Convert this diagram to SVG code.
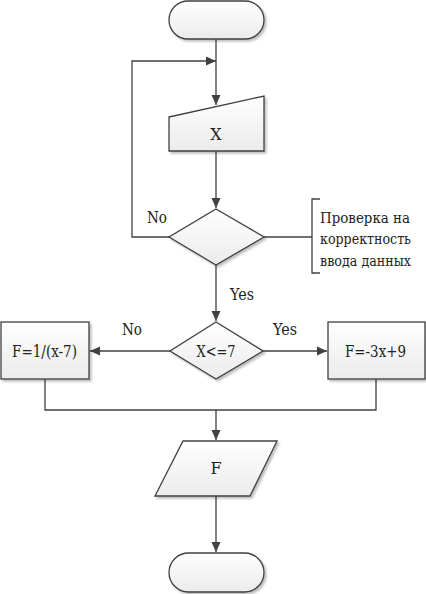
<svg xmlns="http://www.w3.org/2000/svg" width="426" height="594" viewBox="0 0 426 594">
<defs>
<linearGradient id="g" x1="0" y1="0" x2="0" y2="1">
<stop offset="0" stop-color="#ffffff"/>
<stop offset="1" stop-color="#ebebeb"/>
</linearGradient>
<filter id="sh" x="-10%" y="-10%" width="130%" height="130%">
<feDropShadow dx="2" dy="2" stdDeviation="1.2" flood-color="#000" flood-opacity="0.25"/>
</filter>
<marker id="arr" viewBox="0 0 10 10" refX="10" refY="5" markerWidth="10" markerHeight="10" markerUnits="userSpaceOnUse" orient="auto">
<path d="M0,0.5 L10,5 L0,9.5 Z" fill="#404040"/>
</marker>
</defs>
<style>
.shape{fill:url(#g);stroke:#404040;stroke-width:1.3;filter:url(#sh)}
.line{fill:none;stroke:#404040;stroke-width:1.3}
text{fill:#222;font-family:"DejaVu Serif","Liberation Serif",serif;font-size:16px}
.c{text-anchor:middle}
.n{font-size:14px}
</style>
<g id="connectors">
<path class="line" d="M216,39 V105" marker-end="url(#arr)"/>
<path class="line" d="M169,237 H132 V61 H216" marker-end="url(#arr)"/>
<path class="line" d="M216,151 V208" marker-end="url(#arr)"/>
<path class="line" d="M216,265 V321" marker-end="url(#arr)"/>
<path class="line" d="M170,351 H90" marker-end="url(#arr)"/>
<path class="line" d="M263,351 H327" marker-end="url(#arr)"/>
<path class="line" d="M45,379 V410 H376 V379"/>
<path class="line" d="M216,410 V440" marker-end="url(#arr)"/>
<path class="line" d="M216,496 V552" marker-end="url(#arr)"/>
<path class="line" d="M264,237 H312"/>
<path class="line" d="M320,199 H312 V273 H320"/>
<text x="157" y="223" class="c" textLength="20" lengthAdjust="spacingAndGlyphs">No</text>
<text x="242" y="300" class="c" textLength="24" lengthAdjust="spacingAndGlyphs">Yes</text>
<text x="132" y="335" class="c" textLength="20" lengthAdjust="spacingAndGlyphs">No</text>
<text x="285" y="335" class="c" textLength="24" lengthAdjust="spacingAndGlyphs">Yes</text>
</g>
<g id="start">
<rect class="shape" x="169" y="1" width="95" height="38" rx="19"/>
</g>
<g id="input-x">
<path class="shape" d="M169,117 L264,96 V151 H169 Z"/>
<text x="216" y="140" class="c">X</text>
</g>
<g id="check">
<path class="shape" d="M216,209 L264,237 L216,265 L169,237 Z"/>
</g>
<g id="note">
<text x="320" y="223" class="n" textLength="90" lengthAdjust="spacingAndGlyphs">Проверка на</text>
<text x="320" y="244" class="n" textLength="91" lengthAdjust="spacingAndGlyphs">корректность</text>
<text x="320" y="266" class="n" textLength="91" lengthAdjust="spacingAndGlyphs">ввода данных</text>
</g>
<g id="cond">
<path class="shape" d="M216,322 L263,351 L216,379 L170,351 Z"/>
<text x="216" y="357" class="c" textLength="39" lengthAdjust="spacingAndGlyphs">X&lt;=7</text>
</g>
<g id="f-left">
<rect class="shape" x="1" y="322" width="88" height="57"/>
<text x="44.5" y="357" class="c" textLength="65" lengthAdjust="spacingAndGlyphs">F=1/(x-7)</text>
</g>
<g id="f-right">
<rect class="shape" x="328" y="322" width="97" height="57"/>
<text x="375.5" y="357" class="c" textLength="61" lengthAdjust="spacingAndGlyphs">F=-3x+9</text>
</g>
<g id="output-f">
<path class="shape" d="M183,441 H277 L250,496 H155 Z"/>
<text x="216" y="474" class="c">F</text>
</g>
<g id="end">
<rect class="shape" x="169" y="553" width="95" height="39" rx="19.5"/>
</g>
</svg>
